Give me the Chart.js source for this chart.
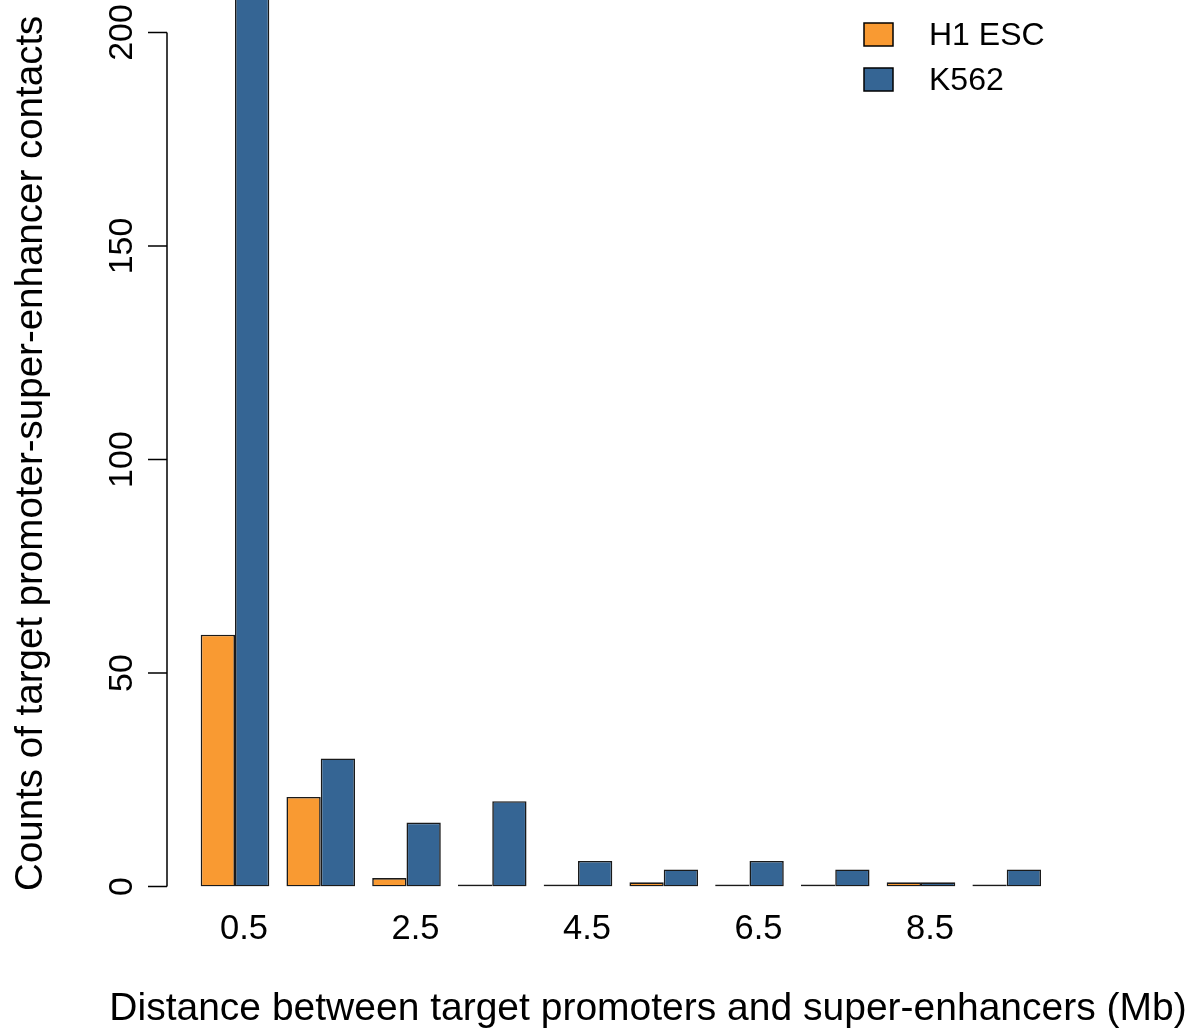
<!DOCTYPE html>
<html>
<head>
<meta charset="utf-8">
<script src="https://cdn.jsdelivr.net/npm/chart.js@4.4.1/dist/chart.umd.min.js"></script>
<style>
  html, body { margin: 0; padding: 0; background: #fff; }
  #wrap { width: 1198px; height: 1035px; }
</style>
</head>
<body>
<div id="wrap"><canvas id="barChart"></canvas></div>
<script>
// distance bins (Mb, bin centres) and counts per cell line
const distanceBins = [0.5, 1.5, 2.5, 3.5, 4.5, 5.5, 6.5, 7.5, 8.5, 9.5];
const h1escCounts = [59, 21, 2, 0, 0, 1, 0, 0, 1, 0];
const k562Counts = [240, 30, 15, 20, 6, 4, 6, 4, 1, 4];
const xTickValues = [0.5, 2.5, 4.5, 6.5, 8.5];
const yTickValues = [0, 50, 100, 150, 200];

const FONT = '"Liberation Sans", Arial, Helvetica, sans-serif';
Chart.defaults.font.family = FONT;
Chart.defaults.color = '#000';

// R style left axis (only spans the tick range), rotated labels, titles and the legend box
const rStylePlugin = {
  id: 'rStyle',
  afterDraw(chart) {
    const { ctx, chartArea, scales: { y } } = chart;
    const x0 = chartArea.left;
    ctx.save();
    ctx.strokeStyle = '#000';
    ctx.lineWidth = 1.5;
    ctx.beginPath();
    ctx.moveTo(x0, y.getPixelForValue(yTickValues[0]));
    ctx.lineTo(x0, y.getPixelForValue(yTickValues[yTickValues.length - 1]));
    yTickValues.forEach(v => {
      const p = y.getPixelForValue(v);
      ctx.moveTo(x0, p);
      ctx.lineTo(x0 - 19, p);
    });
    ctx.stroke();

    ctx.fillStyle = '#000';
    ctx.font = '34px ' + FONT;
    ctx.textAlign = 'center';
    ctx.textBaseline = 'alphabetic';
    yTickValues.forEach(v => {
      ctx.save();
      ctx.translate(x0 - 35, y.getPixelForValue(v));
      ctx.rotate(-Math.PI / 2);
      ctx.fillText(String(v), 0, 0);
      ctx.restore();
    });

    // axis titles
    ctx.font = '38.5px ' + FONT;
    ctx.save();
    ctx.translate(42, (chartArea.top + chartArea.bottom) / 2 + 10);
    ctx.rotate(-Math.PI / 2);
    ctx.fillText('Counts of target promoter-super-enhancer contacts', 0, 0);
    ctx.restore();
    ctx.font = '39px ' + FONT;
    ctx.fillText('Distance between target promoters and super-enhancers (Mb)',
      (chartArea.left + chartArea.right) / 2, 1020);

    // legend
    ctx.font = '32px ' + FONT;
    ctx.textAlign = 'left';
    ctx.textBaseline = 'middle';
    chart.data.datasets.forEach((ds, i) => {
      const bx = 864, by = 23 + i * 45;
      ctx.fillStyle = ds.backgroundColor;
      ctx.fillRect(bx, by, 29, 23);
      ctx.strokeRect(bx, by, 29, 23);
      ctx.fillStyle = '#000';
      ctx.fillText(ds.label, 929, by + 13);
    });
    ctx.restore();
  }
};

const toPoints = arr => distanceBins.map((d, i) => ({ x: d, y: arr[i] }));

const barStyle = {
  borderColor: '#1a1a1a',
  borderWidth: 1.6,
  borderSkipped: false,
  minBarLength: 2,
  categoryPercentage: 0.8,
  barPercentage: 1.0
};

new Chart(document.getElementById('barChart'), {
  type: 'bar',
  data: {
    datasets: [
      Object.assign({ label: 'H1 ESC', backgroundColor: '#F99A32', data: toPoints(h1escCounts) }, barStyle),
      Object.assign({ label: 'K562', backgroundColor: '#356594', data: toPoints(k562Counts) }, barStyle)
    ]
  },
  options: {
    responsive: true,
    maintainAspectRatio: false,
    animation: false,
    devicePixelRatio: 1,
    layout: { padding: { left: 167, right: 69, top: 0, bottom: 63 } },
    plugins: { legend: { display: false }, tooltip: { enabled: false } },
    scales: {
      x: {
        type: 'linear',
        offset: false,
        min: -0.293,
        max: 10.926,
        grid: { display: false, drawTicks: false, tickLength: 0 },
        border: { display: false },
        afterBuildTicks: scale => { scale.ticks = xTickValues.map(v => ({ value: v })); },
        ticks: {
          autoSkip: false,
          maxRotation: 0,
          padding: 22,
          labelOffset: 9,
          font: { size: 34.5 },
          color: '#000',
          callback: v => v.toFixed(1)
        }
      },
      y: {
        display: false,
        min: 0,
        max: 207.6
      }
    }
  },
  plugins: [rStylePlugin]
});
</script>
</body>
</html>
